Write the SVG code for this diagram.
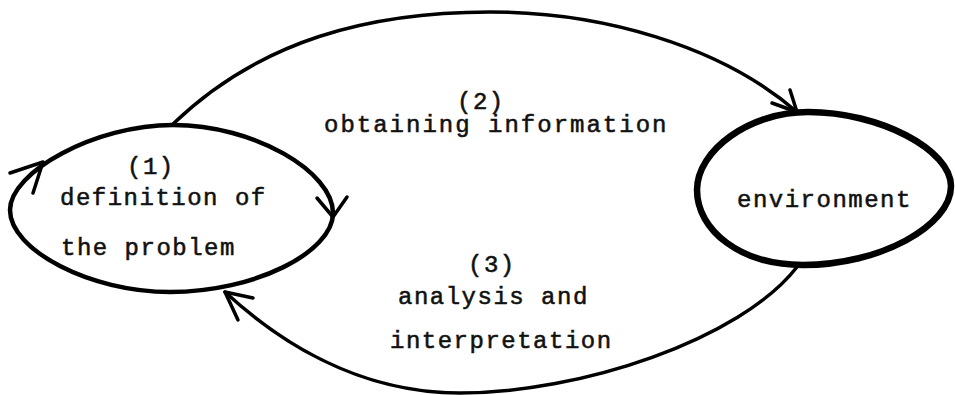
<svg xmlns="http://www.w3.org/2000/svg" width="955" height="395" viewBox="0 0 955 395">
  <style>
    .node { fill: none; stroke: #000; stroke-linejoin: round; stroke-linecap: round; }
    .edge { fill: none; stroke: #000; stroke-width: 3.5; stroke-linecap: round; stroke-linejoin: round; }
    .head { fill: none; stroke: #000; stroke-width: 3.5; stroke-linecap: round; stroke-linejoin: round; }
    text { font-family: "Liberation Mono", "DejaVu Sans Mono", monospace; font-size: 24px; letter-spacing: 1.5px; fill: #111; stroke: #111; stroke-width: 0.55; }
    .wide { letter-spacing: 2px; }
  </style>
  <rect width="955" height="395" fill="#fff"/>

  <!-- Node 1: definition of the problem, with its own loop arrows -->
  <g id="node-problem">
    <path class="node" stroke-width="4.5" d="M10,210 C10,172 95,125 173,125 C255,125 333,172 333,213 C333,252 255,292 170,292 C90,292 10,250 10,210 Z"/>
    <path class="head" d="M10,173 L43,162 L33,193"/>
    <path class="head" d="M317,198 L333,217 L347,197"/>
    <text x="127" y="174">(1)</text>
    <text x="60" y="205">definition of</text>
    <text x="61" y="255">the problem</text>
  </g>

  <!-- Node 2: environment -->
  <g id="node-environment">
    <path class="node" stroke-width="6.5" d="M697,190 C697,150 750,112 808,112 C880,112 951,150 951,186 C951,226 880,265 803,265 C740,265 697,230 697,190 Z"/>
    <text x="737" y="207">environment</text>
  </g>

  <!-- Connectors between the two nodes -->
  <g id="connectors">
    <path class="edge" d="M173,124 C260,40 370,12 490,12 C600,12 720,45 797,112"/>
    <path class="head" d="M790,90 L797,112 L772,103"/>
    <path class="edge" d="M797,267 C740,340 580,393 460,393 C355,393 275,338 225,292"/>
    <path class="head" d="M253,298 L225,292 L238,320"/>
  </g>

  <!-- Connector labels -->
  <g id="labels">
    <text x="457" y="109">(2)</text>
    <text class="wide" x="324" y="132">obtaining information</text>
    <text x="468" y="272">(3)</text>
    <text x="398" y="304">analysis and</text>
    <text x="390" y="348">interpretation</text>
  </g>
</svg>
